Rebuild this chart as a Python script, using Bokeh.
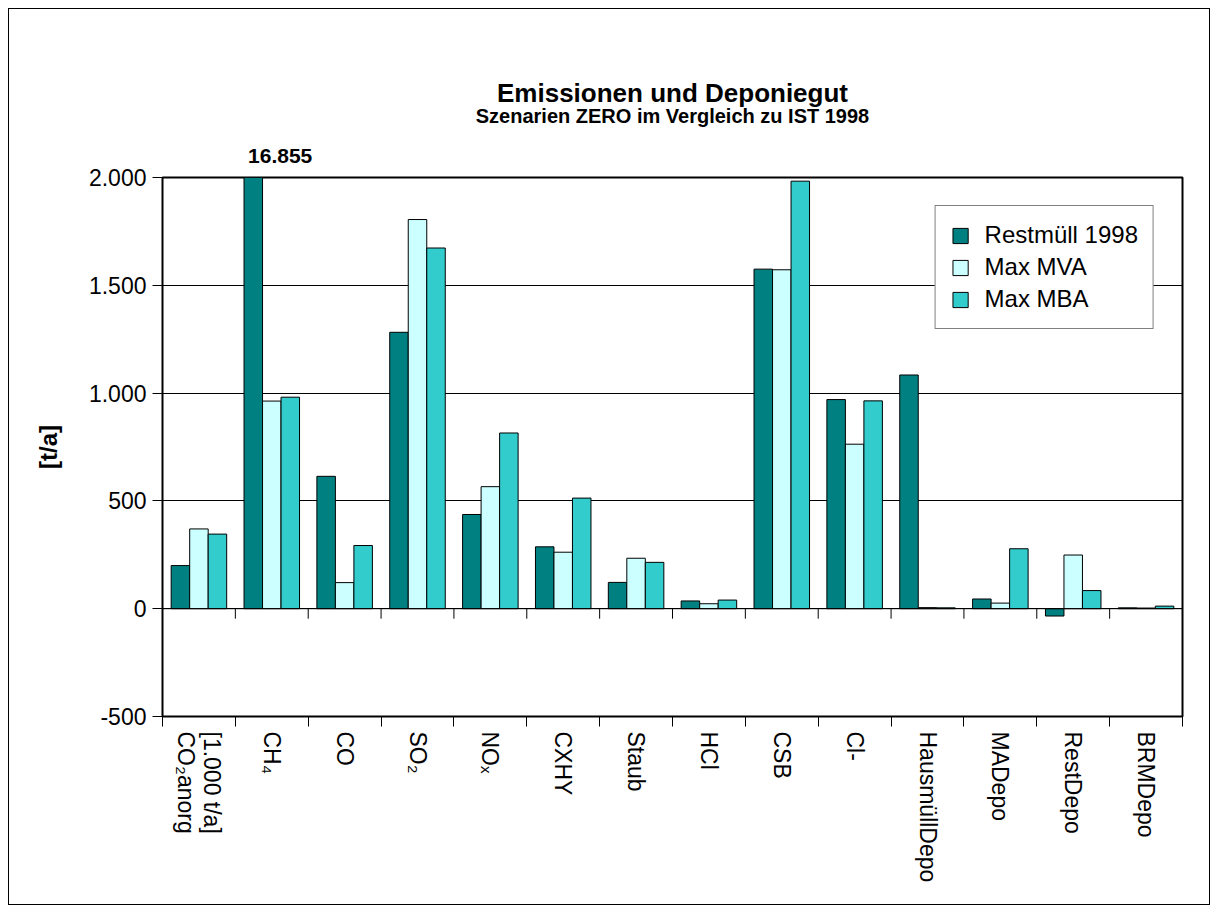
from bokeh.plotting import figure
from bokeh.models import Range1d, FixedTicker, Legend, LegendItem, Title, Span
from bokeh.embed import file_html
from bokeh.resources import INLINE

# ---------------- data ----------------
categories = ["CO\u2082anorg\n[1.000 t/a]", "CH\u2084", "CO", "SO\u2082", "NO\u2093", "CXHY", "Staub",
              "HCl", "CSB", "Cl-", "HausmüllDepo", "MADepo", "RestDepo", "BRMDepo"]
series_names = ["Restmüll 1998", "Max MVA", "Max MBA"]
restmuell_1998 = [200, 16855, 614, 1282, 437, 287, 122, 36, 1575, 970, 1084, 45, -34, 4]
max_mva = [370, 963, 121, 1805, 566, 262, 234, 23, 1572, 763, 5, 26, 249, 3]
max_mba = [346, 981, 293, 1673, 815, 513, 215, 40, 1983, 964, 4, 278, 84, 12]
y_ticks = [-500, 0, 500, 1000, 1500, 2000]
y_tick_labels = ["-500", "0", "500", "1.000", "1.500", "2.000"]
title_text = "Emissionen und Deponiegut"
subtitle_text = "Szenarien ZERO im Vergleich zu IST 1998"
y_title = "[t/a]"

colors = ["#008080", "#CCFFFF", "#33CCCC"]
FONT = "Liberation Sans"
n = len(categories)
Y_MIN, Y_MAX = -500, 2000
FRAME_W, FRAME_H = 1020, 539

p = figure(frame_width=FRAME_W, frame_height=FRAME_H,
           min_border_left=153, min_border_right=27, min_border_top=168, min_border_bottom=188,
           x_range=Range1d(0, n), y_range=Range1d(Y_MIN, Y_MAX),
           output_backend="svg", toolbar_location=None, tools="",
           background_fill_color="white", border_fill_color="white")
p.styles = {"border": "1px solid black", "margin-left": "8px", "margin-top": "8px"}
p.outline_line_color = "black"
p.outline_line_width = 2

# grid
p.xgrid.visible = False
p.ygrid.ticker = FixedTicker(ticks=y_ticks)
p.ygrid.grid_line_color = "black"
p.ygrid.grid_line_width = 1

# y axis
ya = p.yaxis[0]
ya.ticker = FixedTicker(ticks=y_ticks)
ya.major_label_overrides = {t: l for t, l in zip(y_ticks, y_tick_labels)}
ya.major_label_text_font = FONT
ya.major_label_text_font_size = "23px"
ya.major_label_text_color = "black"
ya.major_tick_out = 10
ya.major_tick_in = 0
ya.minor_tick_line_color = None
ya.major_label_standoff = 6
ya.axis_line_color = "black"
ya.major_tick_line_color = "black"
ya.axis_label = y_title
ya.axis_label_text_font = FONT
ya.axis_label_text_font_size = "24px"
ya.axis_label_text_font_style = "bold"
ya.axis_label_text_color = "black"
ya.axis_label_standoff = 24

# x axis: labels at category centres, ticks at category boundaries
centers = [i + 0.5 for i in range(n)]
bounds = [float(i) for i in range(n + 1)]
# multi-line labels: bokeh stacks rotated lines right-to-left, so list them reversed
x_labels = ["\n".join(reversed(c.split("\n"))) for c in categories]
xa = p.xaxis[0]
xa.ticker = FixedTicker(ticks=centers, minor_ticks=bounds)
xa.major_label_overrides = {c: lab for c, lab in zip(centers, x_labels)}
xa.major_label_orientation = "vertical"
xa.major_label_text_font = FONT
xa.major_label_text_font_size = "23px"
xa.major_label_text_line_height = 1.0
xa.major_label_text_color = "black"
xa.major_tick_out = 0
xa.major_tick_in = 0
xa.minor_tick_out = 10
xa.minor_tick_in = 0
xa.minor_tick_line_color = "black"
xa.major_label_standoff = 5
xa.axis_line_color = "black"

# bars
bw = 0.254
offsets = [-bw, 0.0, bw]
series = [restmuell_1998, max_mva, max_mba]
items = []
for vals, name, col, off in zip(series, series_names, colors, offsets):
    r = p.vbar(x=[c + off for c in centers], top=vals, bottom=0, width=bw,
               fill_color=col, line_color="black", line_width=1)
    items.append(LegendItem(label=name, renderers=[r]))

# zero line with its ticks (category axis crosses at 0)
p.add_layout(Span(location=0, dimension="width", line_color="black", line_width=1))
tick_len = 10 * (Y_MAX - Y_MIN) / FRAME_H
p.segment(x0=bounds, y0=[0] * len(bounds), x1=bounds, y1=[-tick_len] * len(bounds),
          line_color="black", line_width=1)

# legend
legend = Legend(items=items, location="top_right", margin=28,
                border_line_color="black", border_line_width=1,
                background_fill_color="white", background_fill_alpha=1,
                label_text_font=FONT, label_text_font_size="24px", label_text_color="black",
                glyph_width=19, glyph_height=19, label_standoff=15,
                padding=15, spacing=4)
p.add_layout(legend)

# main title (outermost)
p.title.text = title_text
p.title.align = "center"
p.title.text_font = FONT
p.title.text_font_size = "26px"
p.title.text_font_style = "bold"
p.title.text_color = "black"
p.title.standoff = -21

# value label for the clipped CH4 bar (nearest the frame)
big_i = max(range(n), key=lambda i: restmuell_1998[i])
big_txt = f"{restmuell_1998[big_i]:,}".replace(",", ".")
bar_left_px = (centers[big_i] + offsets[0] - bw / 2) * FRAME_W / n
value_title = Title(text=big_txt, align="left", offset=bar_left_px + 4, text_font=FONT,
                    text_font_size="21px", text_font_style="bold", text_color="black",
                    standoff=29)
sub_title = Title(text=subtitle_text, align="center", text_font=FONT, text_font_size="20px",
                  text_font_style="bold", text_color="black", standoff=11)
p.above = [value_title, sub_title]

open("out.html", "w").write(file_html(p, INLINE))
